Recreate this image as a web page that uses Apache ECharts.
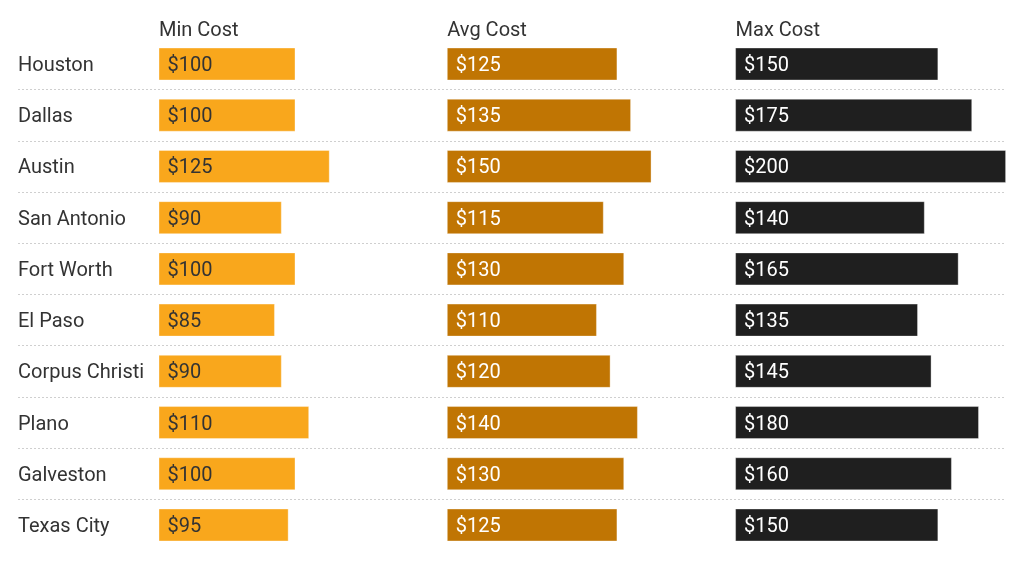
<!DOCTYPE html>
<html><head><meta charset="utf-8">
<script src="https://cdn.jsdelivr.net/npm/echarts@6/dist/echarts.min.js"></script>
<style>html,body{margin:0;padding:0;background:#fff}#c{width:1024px;height:578px}</style>
</head><body><div id="c"></div>
<script>
const cities = ['Houston','Dallas','Austin','San Antonio','Fort Worth','El Paso','Corpus Christi','Plano','Galveston','Texas City'];
const panelTitles = ['Min Cost','Avg Cost','Max Cost'];
const minCost = [100,100,125,90,100,85,90,110,100,95];
const avgCost = [125,135,150,115,130,110,120,140,130,125];
const maxCost = [150,175,200,140,165,135,145,180,160,150];

(function () {
const panels = [minCost, avgCost, maxCost];
const colors = ['#F9A71C','#C07503','#1F1F1F'];
const labelColors = ['#333333','#ffffff','#ffffff'];
const widths = [274, 273, 271];
const FONT = 'Roboto';
const gTop = 38.4, gHeight = 512.2;
const grids = [], xAxes = [], yAxes = [], series = [], titles = [];

panels.forEach((vals, i) => {
  const left = 158.5 + 288.3 * i;
  grids.push({left: left, top: gTop, width: widths[i], height: gHeight});
  xAxes.push({type: 'value', gridIndex: i, min: 0, max: 200, show: false});
  yAxes.push({type: 'category', gridIndex: i, data: cities, inverse: true,
    axisLine: {show: false}, axisTick: {show: false}, splitLine: {show: false}, axisLabel: {show: false}
  });
  series.push({type: 'bar', xAxisIndex: i, yAxisIndex: i, data: vals, barWidth: 33,
    itemStyle: {color: colors[i], borderColor: 'rgba(255,255,255,0.35)', borderWidth: 1},
    label: {show: true, position: 'insideLeft', distance: 9, offset: [0, 2], formatter: p => '$' + p.value,
      fontFamily: FONT, fontSize: 20, color: labelColors[i]},
    silent: true, z: 3
  });
  titles.push({text: panelTitles[i], left: left + 0.5, top: 21, padding: 0,
    textStyle: {fontFamily: FONT, fontSize: 20, fontWeight: 'normal', color: '#333'}});
});

// separators
grids.push({left: 18, right: 18, top: gTop, height: gHeight});
xAxes.push({type: 'value', gridIndex: 3, min: 0, max: 1, show: false});
yAxes.push({type: 'category', gridIndex: 3, data: cities, inverse: true,
  axisLine: {show: false}, axisTick: {show: false}, axisLabel: {show: false},
  splitLine: {show: true, showMinLine: false, showMaxLine: false, lineStyle: {color: '#cfcfcf', type: [2, 2], width: 1}}
});
series.push({type: 'bar', xAxisIndex: 3, yAxisIndex: 3, data: [], silent: true});

// city labels (slightly lowered to match optical centring)
grids.push({left: 158.5, width: 272, top: gTop + 2, height: gHeight});
xAxes.push({type: 'value', gridIndex: 4, min: 0, max: 1, show: false});
yAxes.push({type: 'category', gridIndex: 4, data: cities, inverse: true,
  axisLine: {show: false}, axisTick: {show: false}, splitLine: {show: false},
  axisLabel: {show: true, align: 'left', margin: 140.5, fontFamily: FONT, fontSize: 20, color: '#333'}
});
series.push({type: 'bar', xAxisIndex: 4, yAxisIndex: 4, data: [], silent: true});

const chart = echarts.init(document.getElementById('c'), null, {renderer: 'canvas'});
chart.setOption({
  animation: false,
  backgroundColor: '#fff',
  title: titles,
  grid: grids,
  xAxis: xAxes,
  yAxis: yAxes,
  series: series
});
})();
</script></body></html>
